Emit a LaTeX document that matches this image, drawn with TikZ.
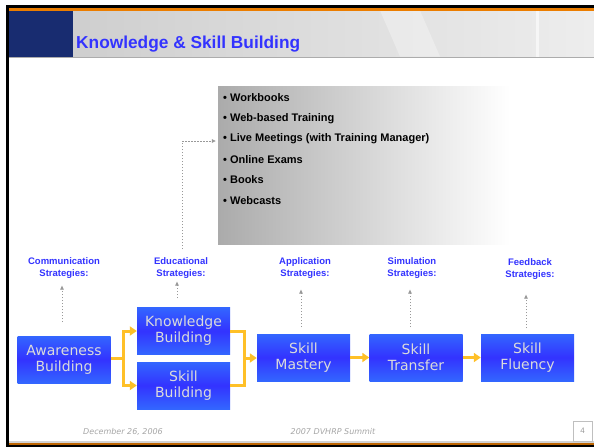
\documentclass[tikz,border=0pt]{standalone}
\usepackage{fontspec}
\setmainfont{Liberation Sans}
\newfontfamily\stagefont{DejaVu Sans}
\usetikzlibrary{arrows.meta}
\definecolor{titleblue}{RGB}{51,51,255}
\definecolor{navy}{RGB}{24,44,112}
\definecolor{stagelight}{RGB}{51,102,255}
\definecolor{stagedark}{RGB}{51,51,255}
\definecolor{linkorange}{RGB}{255,192,40}
\definecolor{frameorange}{RGB}{235,125,0}

\tikzset{
  stage/.style={minimum width=93pt, minimum height=47pt, inner sep=0pt,
    top color=stagelight, bottom color=stagelight, middle color=stagedark,
    text=white!86!black, align=center,
    font=\stagefont\fontsize{14}{16}\selectfont},
  strat/.style={text=titleblue, align=center, inner sep=0pt,
    font=\bfseries\fontsize{9.5}{12}\selectfont},
  link/.style={draw=linkorange, line width=3pt},
  linkarrow/.style={link, -{Triangle[length=7pt,width=9pt]}},
  hint/.style={draw=gray!80, line width=0.7pt, dash pattern=on 1.5pt off 1.5pt,
    -{Triangle[length=4pt,width=3.5pt]}},
  item/.style={anchor=west, inner sep=0pt, font=\bfseries\fontsize{11}{13}\selectfont},
  foot/.style={text=gray!70, font=\stagefont\itshape\fontsize{8}{10}\selectfont}
}

\begin{document}
\begin{tikzpicture}[x=1pt,y=-1pt]
  \useasboundingbox (0,0) rectangle (594,447);
  \fill[white] (0,0) rectangle (594,447);

  % frame and header band
  \shade[left color=gray!38, right color=gray!14] (73,10.5) rectangle (594,56.5);
  \fill[white, opacity=0.3] (380,10.5) -- (420,10.5) -- (440,56.5) -- (400,56.5) -- cycle;
  \fill[white, opacity=0.6] (536,10.5) rectangle (539,56.5);
  \fill[navy] (8,10.5) rectangle (73,56.5);
  \fill[gray!65] (8,56.5) rectangle (594,58);
  \fill[black] (6,4.5) rectangle (594,8);
  \fill[frameorange] (8,8) rectangle (594,10.5);
  \fill[gray!35] (8,441) rectangle (594,442.5);
  \fill[frameorange!80!black] (8,442.5) rectangle (594,444.8);
  \fill[black] (6,444.8) rectangle (594,447);
  \fill[black] (6,4.5) rectangle (8.5,447);

  \node[anchor=base west, inner sep=0pt, text=titleblue,
    font=\bfseries\fontsize{17.3}{20}\selectfont] (title) at (76,48) {Knowledge \& Skill Building};

  % media list
  \node[minimum width=292pt, minimum height=158pt, inner sep=0pt,
    left color=black!33, right color=white] (media) at (364,165) {};
  \foreach \txt [count=\i] in {Workbooks, Web-based Training,
      Live Meetings (with Training Manager), Online Exams, Books, Webcasts}
    \node[item] (item\i) at (223,77+20.6*\i) {\textbullet\ \txt};

  % strategies
  \node[strat] (comm) at (64,268) {Communication\\Strategies:};
  \node[strat] (edu)  at (181,268) {Educational\\Strategies:};
  \node[strat] (app)  at (305,268) {Application\\Strategies:};
  \node[strat] (sim)  at (412,268) {Simulation\\Strategies:};
  \node[strat] (fb)   at (530,269) {Feedback\\Strategies:};

  % stages
  \node[stage] (aware) at (64,359.5)   {Awareness\\Building};
  \node[stage] (know)  at (183.5,331)  {Knowledge\\Building};
  \node[stage] (skill) at (183.5,385.5) {Skill\\Building};
  \node[stage] (mast)  at (303.5,357.5) {Skill\\Mastery};
  \node[stage] (trans) at (416,357.5)  {Skill\\Transfer};
  \node[stage] (flu)   at (527.5,357.5) {Skill\\Fluency};

  % orange flow
  \coordinate (split) at (123,358);
  \coordinate (join) at (244,358);
  \draw[link] (aware.east |- split) -- (split);
  \draw[linkarrow] (split) |- (know.west);
  \draw[linkarrow] (split) |- (skill.west);
  \draw[link] (know.east) -| (join);
  \draw[link] (skill.east) -| (join);
  \draw[linkarrow] (join) -- (mast.west |- join);
  \draw[linkarrow] (mast.east) -- (trans.west);
  \draw[linkarrow] (trans.east) -- (flu.west);

  % dotted hints
  \coordinate (commfoot) at (62,322);
  \coordinate (edufoot) at (177,298);
  \coordinate (appfoot) at (301,327);
  \coordinate (simfoot) at (410,327);
  \coordinate (fbfoot) at (526,328);
  \coordinate (edutop) at (182,249);
  \draw[hint, shorten >=7pt] (commfoot) -- (commfoot |- comm.south);
  \draw[hint, shorten >=3pt] (edufoot) -- (edufoot |- edu.south);
  \draw[hint, shorten >=11pt] (appfoot) -- (appfoot |- app.south);
  \draw[hint, shorten >=11pt] (simfoot) -- (simfoot |- sim.south);
  \draw[hint, shorten >=15pt] (fbfoot) -- (fbfoot |- fb.south);
  \draw[hint, shorten >=2pt] (edutop) |- ([yshift=24pt]media.west);

  % footer
  \node[foot] (date) at (123,432) {December 26, 2006};
  \node[foot] (event) at (333,432) {2007 DVHRP Summit};
  \node[draw=gray!50, minimum width=19pt, minimum height=20pt, inner sep=0pt,
    text=gray!80, font=\fontsize{8}{10}\selectfont] (page) at (582.5,431) {4};
\end{tikzpicture}
\end{document}
